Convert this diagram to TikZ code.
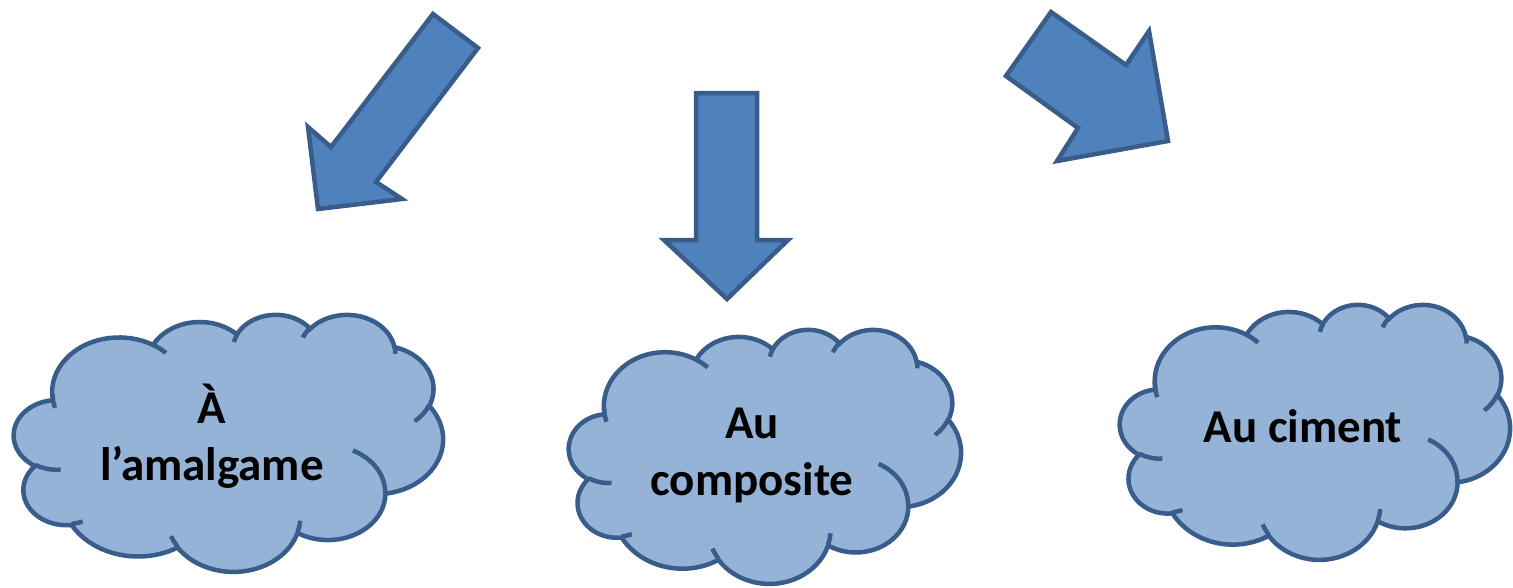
\documentclass[tikz,border=0pt]{standalone}
\usepackage{fontspec}
\setmainfont{Carlito}
\definecolor{arrowfill}{HTML}{4F81BD}
\definecolor{shapeline}{HTML}{385D8A}
\definecolor{cloudfill}{HTML}{95B3D7}
\tikzset{
  blockarrow/.style={fill=arrowfill, draw=shapeline, line width=4.5pt, line join=miter},
  cloudbody/.style={fill=cloudfill, draw=shapeline, line width=4.5pt},
  cloudcrease/.style={draw=shapeline, line width=4.5pt},
  cloudtext/.style={font=\fontsize{47}{57}\selectfont\bfseries, align=center, inner sep=0pt}
}
% one arc of the cloud outline: x radius, y radius, start angle, sweep (visual angles)
\newcommand\carc[4]{arc[x radius=#1, y radius=#2,
  start angle={atan2((#1)*sin(#3),(#2)*cos(#3))},
  delta angle={mod(atan2((#1)*sin((#3)+(#4)),(#2)*cos((#3)+(#4)))-atan2((#1)*sin(#3),(#2)*cos(#3))+720,360)}]}
\newcommand\drawcloud[4]{%
  \pgfmathsetmacro\cloudxu{#3/4320}%
  \pgfmathsetmacro\cloudyu{-#4/4320}%
  \begin{scope}[shift={(#1,#2)}, x=\cloudxu pt, y=\cloudyu pt]
    \draw[cloudbody] (390,1437)
      \carc{675.3}{919.0}{-190.48748}{123.78053}
      \carc{533.3}{726.7}{-144.10238}{89.94523}
      \carc{436.5}{594.5}{-145.80792}{99.72302}
      \carc{485.7}{659.5}{-130.98607}{117.24173}
      \carc{533.3}{727.3}{-78.70888}{109.02692}
      \carc{677.5}{922.0}{-46.26725}{130.269}
      \carc{578.5}{786.7}{0.62502}{114.03333}
      \carc{675.2}{921.5}{22.4516}{115.17255}
      \carc{772.0}{1054.3}{66.24263}{75.71102}
      \carc{436.0}{591.8}{-274.94208}{146.73557}
      \carc{434.5}{594.5}{-246.8285}{152.51885}
      -- cycle;
    \draw[cloudcrease]
      (469.3,2617.7) \carc{434.5}{594.5}{86.742}{26.4295}
      (692.8,3489.9) \carc{436.0}{591.8}{73.61047}{11.44747}
      (1647.8,3909.0) \carc{675.2}{921.5}{137.6242}{14.0811}
      (2882.7,3475.1) \carc{675.2}{921.5}{6.45327}{15.99835}
      (3412.9,2295.4) \carc{578.5}{786.7}{-70.29235}{70.91737}
      (4179.8,1535.4) \carc{533.3}{727.3}{30.31803}{27.7515}
      (3832.4,542.6) \carc{485.7}{659.5}{-13.74433}{14.8589}
      (2907.8,395.2) \carc{485.7}{659.5}{-149.18145}{18.19537}
      (2214.1,472.0) \carc{436.5}{594.5}{-163.49427}{17.68635}
      (1400.0,519.2) \carc{675.3}{919.0}{-66.70695}{12.31935}
      (412.7,1578.9) \carc{675.3}{919.0}{159.12255}{19.70762};
  \end{scope}}
\begin{document}
\begin{tikzpicture}[x=1pt, y=-1pt]
\useasboundingbox (0,0) rectangle (1513,587);
% block arrows
\draw[blockarrow] (433,14) -- (478,48) -- (376,182) -- (402,199) -- (318,209) -- (308,127) -- (331,147) -- cycle;
\draw[blockarrow] (696,93) -- (757,93) -- (757,240) -- (788,240) -- (727,299) -- (664,240) -- (696,240) -- cycle;
\draw[blockarrow] (1051,12) -- (1126,65) -- (1149,31) -- (1168,141) -- (1057,161) -- (1078,128) -- (1006,76) -- cycle;
% clouds
\drawcloud{14}{314}{429}{257}
\drawcloud{569}{329}{392}{254}
\drawcloud{1120}{304}{390}{255}
% texts
\node[cloudtext] (t1) at (212,436) {À\\l’amalgame};
\node[cloudtext] (t2) at (752,455) {Au\\composite};
\node[cloudtext, anchor=base] (t3) at (1303,442) {Au ciment};
\end{tikzpicture}
\end{document}
